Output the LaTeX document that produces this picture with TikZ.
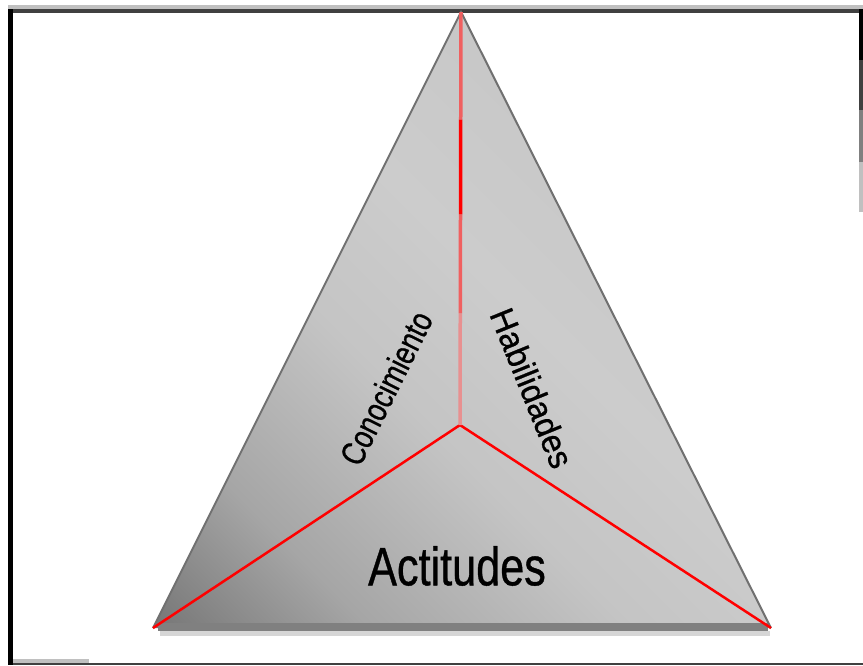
\documentclass[tikz,border=0pt]{standalone}
\usepackage{fontspec}
\setmainfont{Liberation Sans}
\newfontfamily\labelfont{Liberation Sans}[FakeBold=0.8]
\usetikzlibrary{calc}
\definecolor{edgegray}{RGB}{112,112,112}
\definecolor{bandgray}{RGB}{128,128,128}
\definecolor{shadowgray}{RGB}{214,214,214}
\definecolor{pinkred}{RGB}{240,96,96}
\definecolor{palered}{RGB}{232,144,144}
\definecolor{framedark}{RGB}{64,64,64}
\definecolor{framelight}{RGB}{192,192,192}
\pgfdeclareverticalshading{pyramidshade}{100bp}{%
  rgb(0bp)=(0.40,0.40,0.40); rgb(13bp)=(0.44,0.44,0.44);
  rgb(27bp)=(0.65,0.65,0.65); rgb(42bp)=(0.77,0.77,0.77);
  rgb(54bp)=(0.80,0.80,0.80); rgb(100bp)=(0.74,0.74,0.74)}

\begin{document}
\begin{tikzpicture}[x=1pt, y=-1pt,
    redline/.style={red, line width=2.5pt},
    ridge/.style={line width=3.5pt},
    facelabel/.style={font=\labelfont\fontsize{34}{36}\selectfont, inner sep=0pt}]
  \useasboundingbox (0,0) rectangle (863,665);

  % frame
  \fill[framelight] (8,5) rectangle (863,9);
  \fill[framedark] (8,9) rectangle (863,13);
  \fill[black] (8,9) rectangle (13,665);
  \fill[framedark] (13,663) rectangle (863,665);
  \fill[framelight] (13,659) rectangle (89,663);
  \fill[black] (859,9) rectangle (863,60);
  \fill[framedark] (859,60) rectangle (863,110);
  \fill[gray] (859,110) rectangle (863,162);
  \fill[framelight] (859,162) rectangle (863,212);

  % corners of the pyramid
  \coordinate (apex) at (461,12);
  \coordinate (left) at (153,628);
  \coordinate (right) at (771,628);
  \coordinate (center) at (460,425);

  % faces
  \shade[shading=pyramidshade, shading angle=-45] (apex) -- (left) -- (right) -- cycle;
  \fill[shadowgray] (160,631) rectangle (770,636);
  \fill[bandgray] (158,623) rectangle (768,631);
  \draw[edgegray, line width=2pt] (left) -- (apex) -- (right);

  % red ridges
  \draw[redline] (center) -- (left);
  \draw[redline] (center) -- (right);
  \draw[redline, ridge, palered] (center) -- ($(center)!0.27!(apex)$);
  \draw[redline, ridge, pinkred] ($(center)!0.27!(apex)$) -- ($(center)!0.51!(apex)$);
  \draw[redline, ridge] ($(center)!0.51!(apex)$) -- ($(center)!0.74!(apex)$);
  \draw[redline, ridge, pinkred] ($(center)!0.74!(apex)$) -- (apex);

  % labels
  \node[facelabel, rotate=63.6, xscale=0.8] (knowledge) at (386,388) {Conocimiento};
  \node[facelabel, rotate=-68, xscale=0.95] (skills) at (532,388) {Habilidades};
  \node[font=\labelfont\fontsize{54}{56}\selectfont, xscale=0.8, inner sep=0pt] (attitudes) at (457,566) {Actitudes};
\end{tikzpicture}
\end{document}
